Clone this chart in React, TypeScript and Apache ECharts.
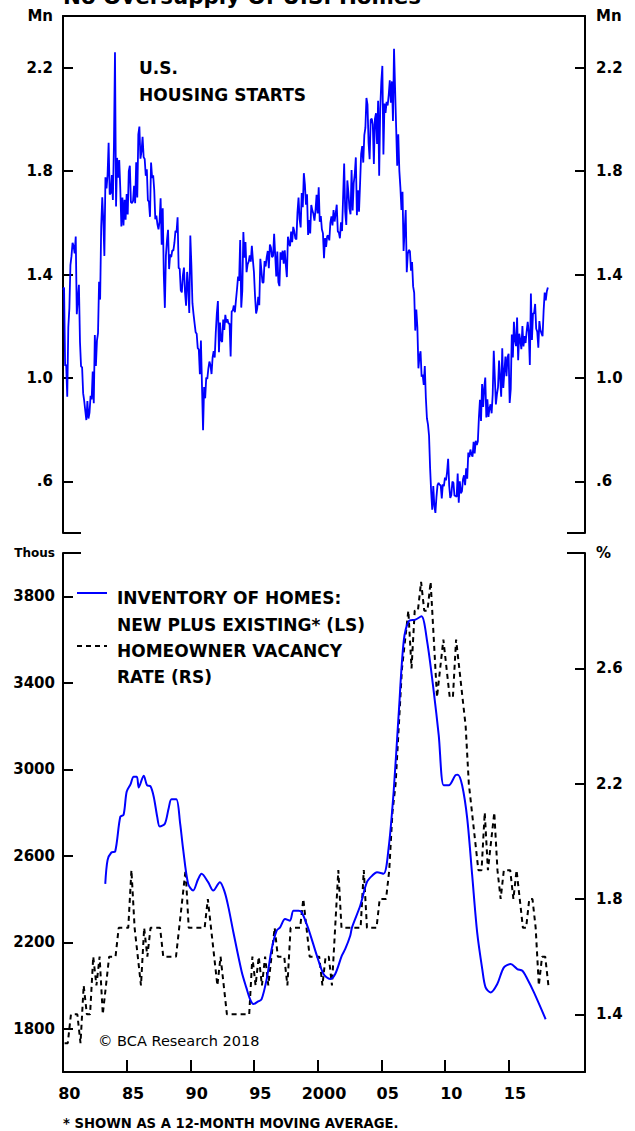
import React, { useEffect, useRef } from "react";
import * as echarts from "echarts";

// ---------------- DATA ----------------
const START_YEAR = 1980;

// U.S. housing starts, thousands (SAAR), monthly from Jan 1980
const housingStarts = [
  1341, 1350, 1047, 1051, 927, 1196, 1269, 1436, 1471, 1523, 1510, 1482,
  1547, 1246, 1306, 1360, 1140, 1045, 1041, 940, 911, 873, 837, 910,
  843, 866, 931, 917, 1025, 902, 1166, 1046, 1144, 1173, 1372, 1303,
  1586, 1699, 1606, 1472, 1776, 1733, 1785, 1910, 1710, 1715, 1785, 1688,
  1897, 2260, 1663, 1851, 1774, 1843, 1732, 1586, 1698, 1590, 1689, 1612,
  1711, 1632, 1800, 1821, 1680, 1676, 1684, 1743, 1676, 1834, 1698, 1942,
  1972, 1848, 1876, 1933, 1854, 1847, 1782, 1807, 1687, 1681, 1623, 1833,
  1774, 1784, 1726, 1614, 1628, 1594, 1575, 1605, 1695, 1515, 1656, 1400,
  1271, 1473, 1532, 1573, 1421, 1478, 1467, 1493, 1492, 1522, 1569, 1563,
  1621, 1425, 1422, 1339, 1331, 1397, 1427, 1332, 1279, 1410, 1351, 1251,
  1551, 1437, 1289, 1248, 1212, 1177, 1171, 1115, 1110, 1014, 1145, 969,
  798, 965, 921, 1001, 996, 1036, 1063, 1049, 1015, 1079, 1103, 1079,
  1176, 1250, 1297, 1099, 1214, 1145, 1139, 1226, 1186, 1244, 1214, 1227,
  1210, 1210, 1083, 1258, 1260, 1280, 1254, 1300, 1343, 1392, 1376, 1533,
  1272, 1337, 1564, 1465, 1526, 1409, 1439, 1450, 1474, 1450, 1511, 1455,
  1407, 1316, 1249, 1267, 1314, 1281, 1461, 1416, 1369, 1369, 1452, 1431,
  1467, 1491, 1424, 1516, 1504, 1467, 1472, 1557, 1475, 1392, 1489, 1370,
  1355, 1486, 1457, 1492, 1442, 1494, 1437, 1390, 1546, 1520, 1510, 1566,
  1525, 1584, 1567, 1540, 1536, 1641, 1698, 1614, 1582, 1715, 1660, 1792,
  1748, 1670, 1710, 1553, 1611, 1559, 1669, 1648, 1635, 1608, 1648, 1708,
  1636, 1737, 1604, 1626, 1575, 1559, 1463, 1541, 1507, 1549, 1551, 1532,
  1600, 1625, 1590, 1649, 1605, 1636, 1670, 1567, 1562, 1540, 1602, 1568,
  1698, 1829, 1642, 1592, 1764, 1717, 1655, 1633, 1804, 1648, 1753, 1788,
  1853, 1629, 1726, 1643, 1751, 1867, 1897, 1833, 1939, 1967, 2083, 2057,
  1911, 1846, 1998, 2003, 1981, 1828, 2002, 2024, 1905, 2072, 1782, 2042,
  2144, 2207, 1864, 2061, 2025, 2068, 2054, 2095, 2151, 2065, 2147, 1994,
  2273, 2119, 1969, 1821, 1942, 1802, 1737, 1650, 1720, 1491, 1570, 1649,
  1409, 1480, 1495, 1490, 1415, 1448, 1354, 1330, 1183, 1264, 1197, 1037,
  1084, 1103, 1005, 1013, 973, 1046, 923, 844, 820, 777, 652, 560,
  490, 582, 505, 478, 540, 585, 594, 586, 585, 534, 588, 581,
  614, 604, 636, 687, 583, 536, 546, 599, 594, 543, 545, 539,
  630, 517, 600, 554, 561, 608, 623, 585, 650, 610, 711, 694,
  723, 704, 695, 753, 708, 757, 740, 754, 847, 915, 833, 976,
  888, 962, 1001, 847, 917, 849, 883, 898, 863, 936, 1105, 1003,
  897, 936, 963, 1067, 999, 927, 1115, 961, 1023, 1083, 1007, 1080,
  1093, 903, 956, 1168, 1079, 1217, 1145, 1123, 1234, 1068, 1171, 1147,
  1111, 1201, 1122, 1162, 1135, 1180, 1217, 1175, 1050, 1326, 1147, 1250,
  1250, 1286, 1190, 1179, 1117, 1220, 1185, 1172, 1161, 1260, 1330, 1300,
  1334, 1350,
];

// Inventory of homes, new plus existing (12-mo. moving avg), thousands
const inventoryYears = [
  1983.32, 1983.5, 1983.8, 1984.1, 1984.5, 1984.76, 1985.0, 1985.3, 1985.55, 1985.8,
  1985.95, 1986.34, 1986.6, 1986.87, 1987.13, 1987.4, 1987.6, 1988.0, 1988.3, 1988.52,
  1988.9, 1989.2, 1989.43, 1989.83, 1990.22, 1990.6, 1990.88, 1991.4, 1991.8, 1992.32,
  1992.7, 1993.0, 1993.37, 1994.03, 1994.4, 1994.69, 1994.95, 1995.3, 1995.6, 1996.0,
  1996.39, 1996.78, 1997.05, 1997.44, 1997.83, 1998.1, 1998.5, 1998.76, 1999.28, 1999.94,
  2000.46, 2000.98, 2001.38, 2001.9, 2002.17, 2002.56, 2002.7, 2003.35, 2003.87, 2004.3,
  2004.66, 2005.18, 2005.57, 2005.97, 2006.36, 2006.76, 2007.15, 2007.68, 2008.15, 2008.6,
  2009.12, 2009.51, 2009.9, 2010.3, 2010.83, 2011.0, 2011.35, 2011.75, 2012.14, 2012.53,
  2012.93, 2013.19, 2013.58, 2014.1, 2014.63, 2015.16, 2015.68, 2016.08, 2016.47, 2016.99,
  2017.91,
];
const inventoryValues = [
  2470, 2580, 2615, 2620, 2780, 2790, 2896, 2930, 2965, 2965,
  2916, 2970, 2926, 2921, 2872, 2780, 2735, 2748, 2820, 2861,
  2861, 2750, 2633, 2470, 2439, 2490, 2517, 2478, 2439, 2478,
  2432, 2360, 2250, 2065, 1990, 1937, 1914, 1925, 1937, 2030,
  2169, 2254, 2269, 2308, 2300, 2346, 2346, 2338, 2261, 2138,
  2053, 2030, 2053, 2138, 2169, 2230, 2269, 2370, 2478, 2509,
  2524, 2517, 2633, 2896, 3250, 3591, 3684, 3692, 3707, 3591,
  3359, 3158, 2926, 2926, 2973, 2975, 2926, 2772, 2509, 2246,
  2076, 1991, 1968, 2006, 2084, 2099, 2076, 2068, 2030, 1968,
  1844,
];

// Homeowner vacancy rate, %, quarterly from 1980 Q1
const vacancyRate = [
  1.3, 1.3, 1.4, 1.4,  1.4, 1.3, 1.5, 1.4,  1.4, 1.6, 1.5, 1.6,  1.4, 1.5, 1.6, 1.6,
  1.6, 1.7, 1.7, 1.7,  1.7, 1.9, 1.7, 1.6,  1.5, 1.7, 1.6, 1.7,  1.7, 1.7, 1.7, 1.6,
  1.6, 1.6, 1.6, 1.6,  1.7, 1.8, 1.9, 1.7,  1.7, 1.7, 1.7, 1.7,  1.7, 1.8, 1.7, 1.6,
  1.5, 1.6, 1.5, 1.4,  1.4, 1.4, 1.4, 1.4,  1.4, 1.4, 1.4, 1.6,  1.5, 1.6, 1.5, 1.6,
  1.5, 1.6, 1.7, 1.6,  1.6, 1.6, 1.5, 1.7,  1.7, 1.7, 1.7, 1.8,  1.7, 1.6, 1.6, 1.6,
  1.6, 1.5, 1.6, 1.6,  1.5, 1.7, 1.9, 1.7,  1.7, 1.7, 1.7, 1.7,  1.7, 1.7, 1.9, 1.7,
  1.7, 1.7, 1.7, 1.8,  1.8, 1.8, 1.9, 2.1,  2.2, 2.4, 2.6, 2.7,  2.8, 2.6, 2.8, 2.8,
  2.9, 2.8, 2.8, 2.9,  2.7, 2.5, 2.6, 2.7,  2.6, 2.5, 2.5, 2.7,  2.6, 2.5, 2.4, 2.2,
  2.1, 2.0, 1.9, 1.9,  2.1, 1.9, 2.0, 2.1,  1.9, 1.8, 1.9, 1.9,  1.9, 1.8, 1.9, 1.8,
  1.7, 1.7, 1.8, 1.8,  1.7, 1.5, 1.6, 1.6,  1.5,
];

// Axis ticks & labels
const topTicks = [0.6, 1.0, 1.4, 1.8, 2.2];
const bottomLeftTicks = [1800, 2200, 2600, 3000, 3400, 3800];
const bottomRightTicks = [1.4, 1.8, 2.2, 2.6];
const xTickYears = [1985, 1990, 1995, 2000, 2005, 2010, 2015];
const xLabelYears = [1980, 1985, 1990, 1995, 2000, 2005, 2010, 2015];
const xLabelTexts = ["80", "85", "90", "95", "2000", "05", "10", "15"];

// ---------------- CHART ----------------
const FONT = "DejaVu Sans";
const BLACK = "#000000";
const BLUE = "#0000ff";

export default function App() {
  const ref = useRef<HTMLDivElement>(null);

  useEffect(() => {
    if (!ref.current) return;
    const chart = echarts.init(ref.current, null, { renderer: "svg" });

    const lineStyle = { color: BLACK, width: 2 };
    const tickStyle = { color: BLACK, width: 2 };
    const labelBase = {
      color: BLACK,
      fontFamily: FONT,
      fontWeight: "bold" as const,
      fontSize: 15,
    };

    const fmtTop = (v: number) => {
      if (v > 2.35) return "Mn";
      if (v < 1) return "." + Math.round(v * 10);
      return v.toFixed(1);
    };

    const txt = (
      x: number,
      y: number,
      text: string,
      size: number,
      weight: string = "bold"
    ) => ({
      type: "text",
      x,
      y,
      silent: true,
      style: {
        text,
        fill: BLACK,
        fontFamily: FONT,
        fontWeight: weight,
        fontSize: size,
        align: "left",
        verticalAlign: "middle",
      },
    });
    const seg = (x1: number, y1: number, x2: number, y2: number, color = BLACK, dash?: number[]) => ({
      type: "line",
      silent: true,
      shape: { x1, y1, x2, y2 },
      style: { stroke: color, lineWidth: 2, lineDash: dash },
    });

    const option: any = {
      animation: false,
      backgroundColor: "#ffffff",
      grid: [
        { left: 63, right: 50, top: 16, height: 517 },
        { left: 63, right: 50, top: 553, height: 519 },
      ],
      xAxis: [
        {
          gridIndex: 0,
          type: "value",
          min: 1980,
          max: 2021,
          position: "top",
          axisLine: { show: true, onZero: false, lineStyle },
          axisTick: { show: false },
          axisLabel: { show: false },
          splitLine: { show: false },
        },
        {
          gridIndex: 1,
          type: "value",
          min: 1980,
          max: 2021,
          position: "bottom",
          axisLine: { show: true, onZero: false, lineStyle },
          axisTick: {
            show: true,
            inside: true,
            length: 12,
            lineStyle: tickStyle,
            customValues: xTickYears,
          },
          axisLabel: {
            ...labelBase,
            fontSize: 16,
            margin: 13,
            customValues: xLabelYears.map((y) => y + 0.5),
            formatter: (v: number) => xLabelTexts[xLabelYears.indexOf(Math.round(v - 0.5))] ?? "",
          },
          splitLine: { show: false },
        },
      ],
      yAxis: [
        {
          gridIndex: 0,
          type: "value",
          position: "left",
          min: 0.4,
          max: 2.4,
          axisLine: { show: true, onZero: false, lineStyle },
          axisTick: { show: true, inside: true, length: 10, lineStyle: tickStyle, customValues: topTicks },
          axisLabel: { ...labelBase, margin: 10, customValues: [...topTicks, 2.4], formatter: fmtTop },
          splitLine: { show: false },
        },
        {
          gridIndex: 0,
          type: "value",
          position: "right",
          min: 0.4,
          max: 2.4,
          axisLine: { show: true, onZero: false, lineStyle },
          axisTick: { show: true, inside: true, length: 10, lineStyle: tickStyle, customValues: topTicks },
          axisLabel: { ...labelBase, margin: 11, customValues: [...topTicks, 2.4], formatter: fmtTop },
          splitLine: { show: false },
        },
        {
          gridIndex: 1,
          type: "value",
          position: "left",
          min: 1600,
          max: 4000,
          axisLine: { show: true, onZero: false, lineStyle },
          axisTick: { show: true, inside: true, length: 10, lineStyle: tickStyle, customValues: bottomLeftTicks },
          axisLabel: {
            ...labelBase,
            margin: 8,
            customValues: [...bottomLeftTicks, 4000],
            formatter: (v: number) => (v >= 3999 ? "{u|Thous}" : String(v)),
            rich: { u: { fontFamily: FONT, fontWeight: "bold", fontSize: 12, color: BLACK } },
          },
          splitLine: { show: false },
        },
        {
          gridIndex: 1,
          type: "value",
          position: "right",
          min: 1.2,
          max: 3.0,
          axisLine: { show: true, onZero: false, lineStyle },
          axisTick: { show: true, inside: true, length: 10, lineStyle: tickStyle, customValues: bottomRightTicks },
          axisLabel: {
            ...labelBase,
            margin: 11,
            customValues: [...bottomRightTicks, 3.0],
            formatter: (v: number) => (v >= 2.99 ? "%" : v.toFixed(1)),
          },
          splitLine: { show: false },
        },
      ],
      series: [
        {
          name: "U.S. Housing Starts",
          type: "line",
          xAxisIndex: 0,
          yAxisIndex: 0,
          symbol: "none",
          lineStyle: { color: BLUE, width: 1.8 },
          data: housingStarts.map((v, i) => [START_YEAR + i / 12, v / 1000]),
        },
        {
          name: "Homeowner Vacancy Rate (RS)",
          type: "line",
          xAxisIndex: 1,
          yAxisIndex: 3,
          symbol: "none",
          lineStyle: { color: BLACK, width: 2, type: [5, 4] },
          data: vacancyRate.map((v, i) => [START_YEAR + i / 4 + 0.125, v]),
        },
        {
          name: "Inventory of Homes (LS)",
          type: "line",
          xAxisIndex: 1,
          yAxisIndex: 2,
          symbol: "none",
          smooth: 0.3,
          lineStyle: { color: BLUE, width: 2 },
          data: inventoryYears.map((y, i) => [y, inventoryValues[i]]),
        },
      ],
      graphic: [
        txt(63, -4, "No Oversupply Of U.S. Homes", 21.4),
        txt(139, 68, "U.S.", 17),
        txt(139, 95, "HOUSING STARTS", 17),
        seg(63, 533, 81, 533),
        seg(567, 533, 585, 533),
        seg(63, 553, 81, 553),
        seg(567, 553, 585, 553),
        seg(77, 593, 107, 593, BLUE),
        txt(117, 598, "INVENTORY OF HOMES:", 17),
        txt(117, 625, "NEW PLUS EXISTING* (LS)", 17),
        seg(77, 646, 107, 646, BLACK, [5, 4]),
        txt(117, 651, "HOMEOWNER VACANCY", 17),
        txt(117, 677, "RATE (RS)", 17),
        txt(98, 1041, "© BCA Research 2018", 14.5, "normal"),
        txt(63, 1123, "* SHOWN AS A 12-MONTH MOVING AVERAGE.", 13.2),
      ],
    };

    chart.setOption(option);
    return () => chart.dispose();
  }, []);

  return (
    <div
      ref={ref}
      style={{ position: "absolute", left: 0, top: 0, width: 635, height: 1131, background: "#fff" }}
    />
  );
}
